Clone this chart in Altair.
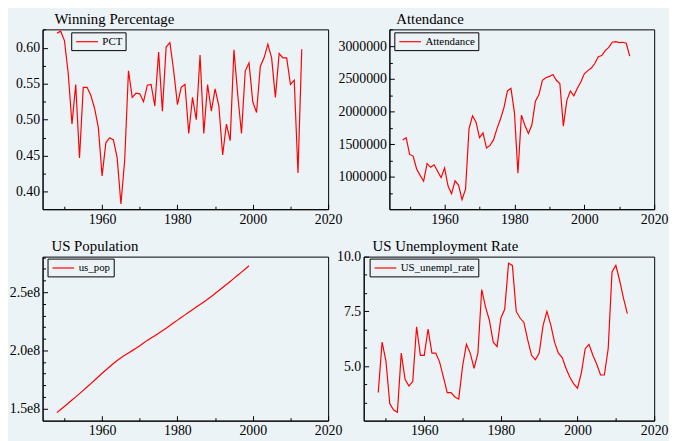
import altair as alt
import pandas as pd

# ---------------- data ----------------
years = list(range(1948, 2014))
pop_years = list(range(1948, 2000))

pct = [0.620, 0.623, 0.610, 0.565, 0.494, 0.549, 0.447, 0.545, 0.545, 0.534,
       0.516, 0.489, 0.422, 0.468, 0.475, 0.472, 0.447, 0.383, 0.444, 0.568,
       0.531, 0.537, 0.536, 0.525, 0.548, 0.549, 0.519, 0.594, 0.512, 0.601,
       0.607, 0.568, 0.521, 0.545, 0.549, 0.481, 0.531, 0.500, 0.590, 0.481,
       0.549, 0.512, 0.543, 0.519, 0.451, 0.494, 0.471, 0.597, 0.535, 0.481,
       0.568, 0.579, 0.525, 0.510, 0.574, 0.586, 0.605, 0.586, 0.531, 0.592,
       0.586, 0.586, 0.549, 0.555, 0.426, 0.598]

attendance = [1567000, 1601000, 1345000, 1320000, 1123000, 1025000, 936000, 1207000,
              1148000, 1187000, 1089000, 990000, 1138000, 862000, 744000, 941000,
              877000, 655000, 813000, 1739000, 1936000, 1837000, 1601000, 1675000,
              1443000, 1483000, 1567000, 1739000, 1887000, 2059000, 2315000, 2355000,
              1985000, 1059000, 1946000, 1788000, 1665000, 1798000, 2158000, 2256000,
              2478000, 2517000, 2537000, 2567000, 2478000, 2429000, 1778000, 2172000,
              2315000, 2241000, 2355000, 2453000, 2576000, 2626000, 2665000, 2734000,
              2837000, 2857000, 2931000, 2980000, 3059000, 3069000, 3054000, 3059000,
              3044000, 2847000]

us_pop = [146.6e6, 149.2e6, 151.9e6, 154.6e6, 157.4e6, 160.1e6, 162.9e6, 165.7e6,
          168.6e6, 171.5e6, 174.4e6, 177.4e6, 180.4e6, 183.2e6, 186.0e6, 188.7e6,
          191.3e6, 193.7e6, 195.8e6, 197.8e6, 199.8e6, 201.8e6, 204.0e6, 206.4e6,
          208.6e6, 210.6e6, 212.6e6, 214.7e6, 216.8e6, 219.0e6, 221.3e6, 223.7e6,
          226.0e6, 228.3e6, 230.5e6, 232.7e6, 234.9e6, 237.2e6, 239.4e6, 241.6e6,
          243.9e6, 246.3e6, 248.8e6, 251.4e6, 254.0e6, 256.6e6, 259.2e6, 261.8e6,
          264.5e6, 267.2e6, 269.9e6, 272.7e6]

us_unempl_rate = [3.8, 6.1, 5.25, 3.3, 3.0, 2.9, 5.6, 4.4, 4.1, 4.3,
                  6.8, 5.5, 5.5, 6.7, 5.6, 5.6, 5.2, 4.5, 3.8, 3.8,
                  3.6, 3.5, 5.0, 6.0, 5.6, 4.9, 5.6, 8.5, 7.7, 7.1,
                  6.1, 5.9, 7.2, 7.6, 9.7, 9.6, 7.5, 7.2, 7.0, 6.2,
                  5.5, 5.3, 5.6, 6.85, 7.5, 6.9, 6.1, 5.6, 5.4, 4.9,
                  4.5, 4.2, 4.0, 4.7, 5.8, 6.0, 5.5, 5.1, 4.6, 4.6,
                  5.8, 9.3, 9.6, 8.9, 8.1, 7.4]

x_ticks = [1950, 1960, 1970, 1980, 1990, 2000, 2010, 2020]
pct_ticks = [0.400, 0.425, 0.450, 0.475, 0.500, 0.525, 0.550, 0.575, 0.600, 0.625]
att_ticks = [750000, 1000000, 1250000, 1500000, 1750000, 2000000, 2250000,
             2500000, 2750000, 3000000, 3250000]
pop_ticks = [150000000, 160000000, 170000000, 180000000, 190000000, 200000000,
             210000000, 220000000, 230000000, 240000000, 250000000, 260000000,
             270000000, 280000000]
unemp_ticks = [3.333333, 4.166667, 5.0, 5.833333, 6.666667, 7.5, 8.333333, 9.166667, 10.0]

BG = "#ecf3f7"
FONT = "Liberation Serif"
RED = "#ff0000"
X_DOMAIN = [1944.2, 2020]


def panel(xs, vals, name, title, title_dx, ydom, yticks, ymajor, ylabel,
          w, h, lx, ly):
    df = pd.DataFrame({"year": xs, "value": vals, "series": name})
    xmajor = "datum.value % 20 == 0"
    x = alt.X(
        "year:Q",
        scale=alt.Scale(domain=X_DOMAIN, nice=False, zero=False),
        axis=alt.Axis(
            title=None, values=x_ticks,
            labelExpr=f"{xmajor} ? format(datum.value, 'd') : ''",
            tickSize={"expr": f"{xmajor} ? -5 : -3"},
            labelPadding=8, labelFont=FONT, labelFontSize=14,
        ),
    )
    y = alt.Y(
        "value:Q",
        scale=alt.Scale(domain=ydom, nice=False, zero=False),
        axis=alt.Axis(
            title=None, values=yticks,
            labelExpr=f"{ymajor} ? {ylabel} : ''",
            tickSize={"expr": f"{ymajor} ? -5 : -3"},
            labelPadding=8, labelFont=FONT, labelFontSize=14,
        ),
    )
    color = alt.Color(
        "series:N",
        scale=alt.Scale(range=[RED]),
        legend=alt.Legend(
            title=None, orient="none", legendX=lx, legendY=ly,
            symbolType="M-2,0H2", symbolSize=121, symbolStrokeWidth=1.2,
            symbolOffset=6.5, labelOffset=9,
            labelFont=FONT, labelFontSize=11, labelColor="black",
            strokeColor="black", padding=3, fillColor=BG,
        ),
    )
    return (
        alt.Chart(df)
        .mark_line(strokeWidth=1.2)
        .encode(x=x, y=y, color=color)
        .properties(
            width=w, height=h,
            title=alt.TitleParams(text=title, dx=title_dx),
        )
    )


tl = panel(years, pct, "PCT", "Winning Percentage", 12, [0.3758, 0.6255],
           pct_ticks, "abs(datum.value/0.05 - round(datum.value/0.05)) < 1e-6",
           "format(datum.value, '.2f')", 289, 182, 29, 3)
tr = panel(years, attendance, "Attendance", "Attendance", 7, [508000, 3256000],
           att_ticks, "datum.value % 500000 == 0",
           "format(datum.value, 'd')", 268, 182, 5, 3)
bl = panel(pop_years, us_pop, "us_pop", "US Population", 9, [139700000, 280500000],
           pop_ticks, "datum.value % 50000000 == 0",
           "format(datum.value/1e8, '.1f') + 'e8'", 289, 166, 5, 2)
br = panel(years, us_unempl_rate, "US_unempl_rate", "US Unemployment Rate", 9,
           [2.52, 10.0], unemp_ticks,
           "abs(datum.value/2.5 - round(datum.value/2.5)) < 1e-6",
           "format(datum.value, '.1f')", 294, 166, 6, 2)

top = alt.hconcat(tl, tr, spacing=62, bounds="flush").resolve_scale(color="independent")
bottom = alt.hconcat(bl, br, spacing=36, bounds="flush").resolve_scale(color="independent")

chart = (
    alt.vconcat(top, bottom, spacing=9)
    .resolve_scale(color="independent")
    .properties(background=BG, padding={"left": 0, "top": 0, "right": 0, "bottom": 0})
    .configure_view(stroke="black", strokeWidth=1, fill=BG)
    .configure_axis(
        grid=False, labelFont=FONT, labelFontSize=14, labelColor="black",
        domainColor="black", domainWidth=1, tickColor="black", tickWidth=1,
        labelOverlap=False, labelFlush=False,
    )
    .configure_legend(labelFont=FONT)
    .configure_title(
        font=FONT, fontSize=15, fontWeight="normal", color="black",
        anchor="start", frame="group", baseline="alphabetic", offset=-4,
    )
)

chart.save("out.html", embed_options={"renderer": "svg", "actions": False})
